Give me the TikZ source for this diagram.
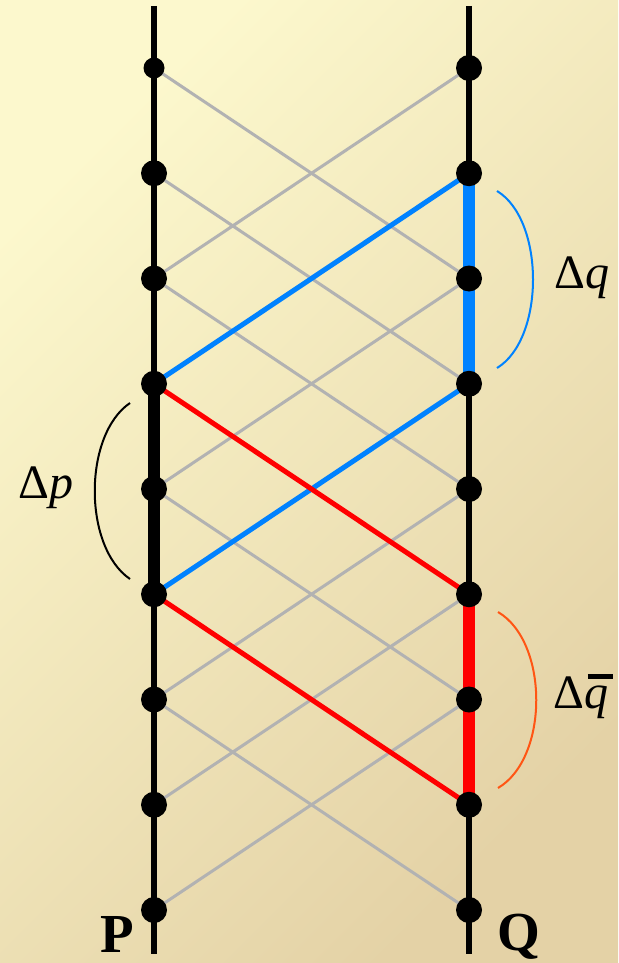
\documentclass[tikz,border=0pt]{standalone}
\usepackage{fontspec}
\setmainfont{Liberation Serif}
\definecolor{bgA}{RGB}{252,248,205}
\definecolor{bgB}{RGB}{228,210,166}
\definecolor{qblue}{RGB}{0,130,255}
\definecolor{qred}{RGB}{255,0,0}
\definecolor{arcorange}{RGB}{255,85,20}
\definecolor{gline}{RGB}{178,178,178}
\begin{document}
\begin{tikzpicture}[x=1pt,y=-1pt,
  pdot/.style={circle,fill=black,inner sep=0pt,minimum size=26pt},
  smalldot/.style={circle,fill=black,inner sep=0pt,minimum size=21pt},
  grayline/.style={draw=gline,line width=3pt},
  axisline/.style={draw=black,line width=5.5pt},
  thickseg/.style={line width=12.5pt},
  diag/.style={line width=5pt},
  brace/.style={line width=2pt},
  lbl/.style={inner sep=0pt,anchor=base west,font=\fontsize{48}{50}\selectfont},
  pq/.style={inner sep=0pt,font=\fontsize{55}{60}\selectfont\bfseries}]
\useasboundingbox (0,0) rectangle (618,963);
\shade[top color=bgA,bottom color=bgB,shading angle=45] (0,0) rectangle (618,963);
\coordinate (Ltop) at (154,6); \coordinate (Lbot) at (154,954);
\coordinate (Rtop) at (469,6); \coordinate (Rbot) at (469,954);
\foreach \i in {0,...,8} {
  \pgfmathsetmacro\yy{68+105.25*\i}
  \coordinate (L\i) at (154,\yy);
  \coordinate (R\i) at (469,\yy);
}
% gray cross lines
\foreach \i in {0,...,6} {
  \pgfmathtruncatemacro\j{\i+2}
  \draw[grayline] (L\i) -- (R\j);
  \draw[grayline] (R\i) -- (L\j);
}
% vertical axes
\draw[axisline] (Ltop) -- (Lbot);
\draw[axisline] (Rtop) -- (Rbot);
% thick segments
\draw[thickseg,black] (L3) -- (L5);
\draw[thickseg,qblue] (R1) -- (R3);
\draw[thickseg,qred] (R5) -- (R7);
% coloured diagonals
\draw[diag,qblue] (L3) -- (R1);
\draw[diag,qblue] (L5) -- (R3);
\draw[diag,qred] (L3) -- (R5);
\draw[diag,qred] (L5) -- (R7);
% dots
\node[smalldot] (dL0) at (L0) {};
\foreach \i in {1,...,8} { \node[pdot] (dL\i) at (L\i) {}; }
\foreach \i in {0,...,8} { \node[pdot] (dR\i) at (R\i) {}; }
% arcs
\coordinate (pa) at (130,403); \coordinate (pb) at (130,579);
\draw[brace,black] (pa) .. controls (83,435) and (83,547) .. (pb);
\coordinate (qa) at (497,191); \coordinate (qb) at (497,368);
\draw[brace,qblue] (qa) .. controls (545,220) and (545,339) .. (qb);
\coordinate (ra) at (498,612); \coordinate (rb) at (498,788);
\draw[brace,arcorange] (ra) .. controls (549,642) and (549,758) .. (rb);
% labels
\node[lbl] (tp) at (18,498) {Δ\textit{p}};
\node[lbl] (tq) at (554,288) {Δ\textit{q}};
\node[lbl] (tqb) at (553,708) {Δ\rlap{\hspace{0.08em}\raisebox{0.6em}{\rule{0.52em}{0.1em}}}\textit{q}};
\node[pq,anchor=base east] (tP) at (134,952) {P};
\node[pq,anchor=base west] (tQ) at (497,950) {Q};
\end{tikzpicture}
\end{document}
